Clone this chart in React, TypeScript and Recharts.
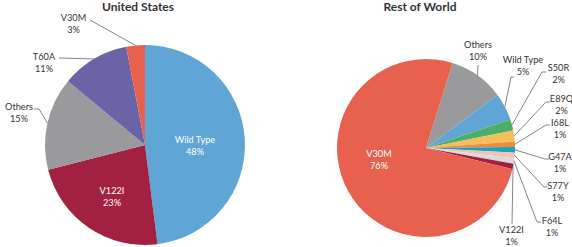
import { PieChart, Pie, Cell } from "recharts";

// United States genotype share (%)
const usNames = ["Wild Type", "V122I", "Others", "T60A", "V30M"];
const usValues = [48, 23, 15, 11, 3];
const usColors = ["#5fa5d6", "#a32140", "#9a9a9c", "#6a64a6", "#e8614f"];

// Rest of World genotype share (%)
const rowNames = ["Others", "Wild Type", "S50R", "E89Q", "I68L", "G47A", "S77Y", "F64L", "V122I", "V30M"];
const rowValues = [10, 5, 2, 2, 1, 1, 1, 1, 1, 76];
const rowColors = [
  "#9a9a9c", "#5fa5d6", "#4dae6b", "#f7bd5a", "#ee8c3a",
  "#19a3c0", "#f2c3b1", "#dadada", "#a32140", "#e8614f",
];

const usData = usNames.map((name, i) => ({ name, value: usValues[i] }));
const rowData = rowNames.map((name, i) => ({ name, value: rowValues[i] }));

// label placement relative to pie centre: text centre + leader line points (towards slice)
type LabelPos = { dx: number; dy: number; inside?: boolean; line?: number[][] };

const usLabels: LabelPos[] = [
  { dx: 50, dy: 0, inside: true },
  { dx: -33, dy: 51, inside: true },
  { dx: -126, dy: -32.5, line: [[-111, -36], [-106, -36]] },
  { dx: -101, dy: -83, line: [[-86, -87]] },
  { dx: -71.5, dy: -122, line: [[-55, -125]] },
];

const rowLabels: LabelPos[] = [
  { dx: 52, dy: -97.5, line: [[52, -83]] },
  { dx: 97, dy: -83, line: [[88, -71], [85, -71]] },
  { dx: 132.5, dy: -74.5, line: [[120, -76], [116, -76]] },
  { dx: 135.5, dy: -44, line: [[124, -46], [120, -46]] },
  { dx: 134, dy: -19.5, line: [[124, -23], [120, -23]] },
  { dx: 134, dy: 14.5, line: [[123, 11], [119, 11]] },
  { dx: 132, dy: 43, line: [[121, 39], [118, 39]] },
  { dx: 126, dy: 78, line: [[115, 74], [111, 74]] },
  { dx: 85.5, dy: 87.5, line: [[86, 76]] },
  { dx: -47, dy: 11, inside: true },
];

const RADIAN = Math.PI / 180;
const FONT = "Lato, 'Open Sans', sans-serif";

const makeLabel = (layout: LabelPos[]) => (props: any) => {
  const { cx, cy, midAngle, outerRadius, index, name, value } = props;
  const pos = layout[index];
  if (!pos) return null;
  const tx = cx + pos.dx;
  const ty = cy + pos.dy;
  const ex = cx + outerRadius * Math.cos(-midAngle * RADIAN);
  const ey = cy + outerRadius * Math.sin(-midAngle * RADIAN);
  const pts = pos.line
    ? [...pos.line.map(([x, y]) => `${cx + x},${cy + y}`), `${ex},${ey}`].join(" ")
    : null;
  const fill = pos.inside ? "#ffffff" : "#333333";
  return (
    <g key={`lbl-${index}`}>
      {pts && <polyline points={pts} fill="none" stroke="#666" strokeWidth={0.8} />}
      <text x={tx} y={ty} textAnchor="middle" fill={fill} fontSize={9.2} fontFamily={FONT}>
        <tspan x={tx} y={ty - 6} dominantBaseline="central">{name}</tspan>
        <tspan x={tx} y={ty + 6} dominantBaseline="central">{`${value}%`}</tspan>
      </text>
    </g>
  );
};

const titleStyle: React.CSSProperties = {
  position: "absolute",
  top: 0,
  fontFamily: FONT,
  fontWeight: 700,
  fontSize: 12,
  color: "#333",
  lineHeight: "14px",
  transform: "translateX(-50%)",
  whiteSpace: "nowrap",
};

export default function App() {
  return (
    <div style={{ position: "absolute", left: 0, top: 0, width: 572, height: 247, background: "#fff" }}>
      <div style={{ ...titleStyle, left: 138 }}>United States</div>
      <div style={{ ...titleStyle, left: 420 }}>Rest of World</div>
      <PieChart width={572} height={247} style={{ position: "absolute", left: 0, top: 0 }}>
        <Pie
          data={usData}
          dataKey="value"
          nameKey="name"
          cx={140}
          cy={140}
          outerRadius={100}
          startAngle={90}
          endAngle={-270}
          stroke="none"
          label={makeLabel(usLabels)}
          labelLine={false}
          isAnimationActive={false}
        >
          {usData.map((d, i) => (
            <Cell key={d.name} fill={usColors[i]} />
          ))}
        </Pie>
        <Pie
          data={rowData}
          dataKey="value"
          nameKey="name"
          cx={421}
          cy={143}
          outerRadius={89}
          startAngle={72.6}
          endAngle={-287.4}
          stroke="none"
          label={makeLabel(rowLabels)}
          labelLine={false}
          isAnimationActive={false}
        >
          {rowData.map((d, i) => (
            <Cell key={d.name} fill={rowColors[i]} />
          ))}
        </Pie>
      </PieChart>
    </div>
  );
}
